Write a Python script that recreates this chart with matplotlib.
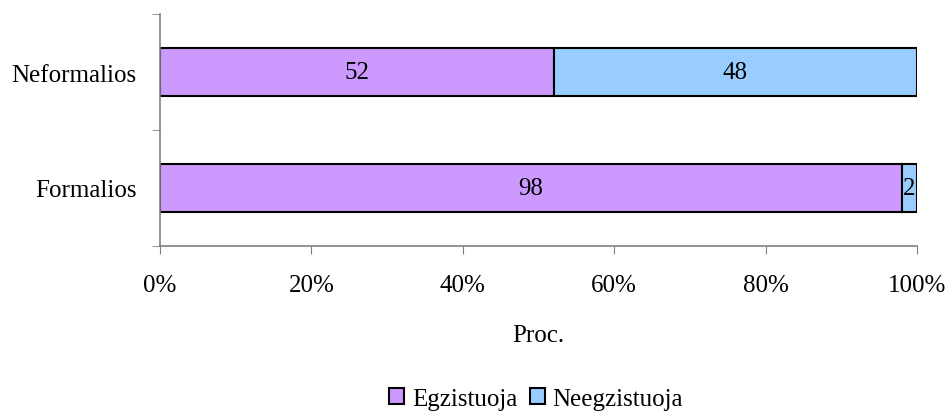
import matplotlib
matplotlib.use('Agg')
from matplotlib import pyplot as plt
from matplotlib.ticker import FixedLocator, PercentFormatter

categories = ['Formalios', 'Neformalios']
egzistuoja = [98, 52]
neegzistuoja = [2, 48]
series_names = ['Egzistuoja', 'Neegzistuoja']
colors = ['#CC99FF', '#99CCFF']

plt.rcParams['font.family'] = ['Liberation Serif', 'DejaVu Serif']
fs = 18

fig = plt.figure(figsize=(9.46, 4.14), dpi=100)
ax = fig.add_axes([160/946, 1-247/414, (917-160)/946, (247-15)/414])

y = list(range(len(categories)))
h = 0.41
b1 = ax.barh(y, egzistuoja, height=h, color=colors[0], edgecolor='black', linewidth=1.5, label=series_names[0])
b2 = ax.barh(y, neegzistuoja, left=egzistuoja, height=h, color=colors[1], edgecolor='black', linewidth=1.5, label=series_names[1])
ax.bar_label(b1, labels=[str(v) for v in egzistuoja], label_type='center', fontsize=fs)
ax.bar_label(b2, labels=[str(v) for v in neegzistuoja], label_type='center', fontsize=fs)

ax.set_xlim(0, 100)
ax.set_ylim(-0.5, len(categories)-0.5)
ax.set_xticks([0, 20, 40, 60, 80, 100])
ax.xaxis.set_major_formatter(PercentFormatter(decimals=0))
ax.set_yticks(y)
ax.set_yticklabels(categories)
ax.yaxis.set_minor_locator(FixedLocator([-0.5, 0.5, 1.5]))
ax.tick_params(axis='y', which='major', length=0, pad=17, labelsize=fs)
ax.tick_params(axis='y', which='minor', length=6, color='#808080', direction='out')
ax.tick_params(axis='x', length=6, color='#808080', direction='out', labelsize=fs, pad=14)

for s in ['top', 'right']:
    ax.spines[s].set_visible(False)
for s in ['left', 'bottom']:
    ax.spines[s].set_color('#808080')
    ax.spines[s].set_linewidth(1.2)

ax.set_xlabel('Proc.', fontsize=fs, labelpad=20)

fig.legend(handles=[b1, b2], loc='center', bbox_to_anchor=(536/946, 1-400/414), ncol=2,
           frameon=False, fontsize=fs, handlelength=0.6, handleheight=0.6,
           handletextpad=0.3, columnspacing=0.5, borderpad=0)

plt.savefig('out.png', dpi=100)
